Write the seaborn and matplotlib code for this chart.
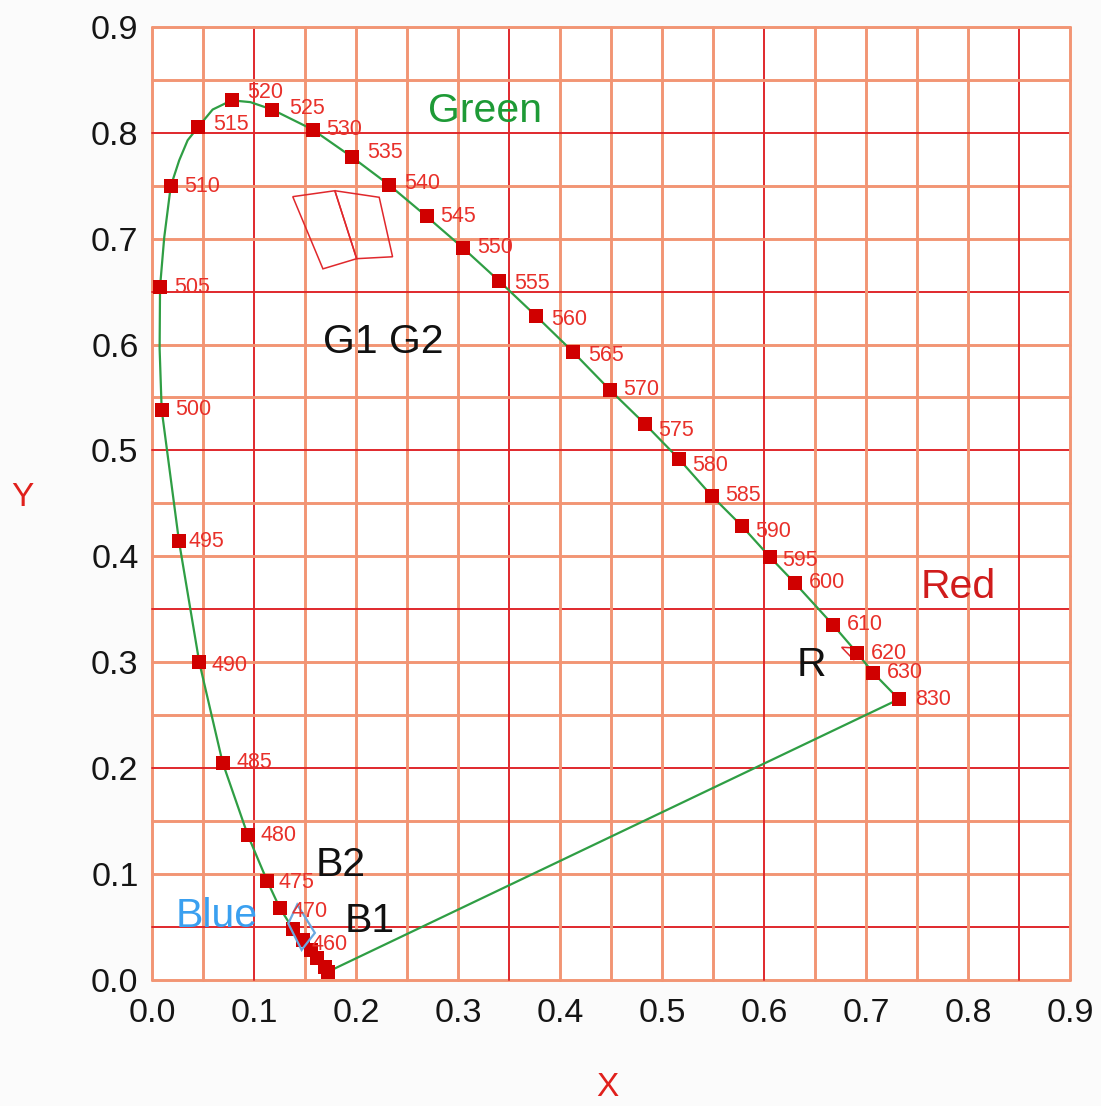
import numpy as np
import pandas as pd
import matplotlib
matplotlib.use("Agg")
import matplotlib.pyplot as plt
import seaborn as sns

# ---------------- data ----------------
wavelengths = [380, 440, 450, 455, 460, 465, 470, 475, 480, 485, 490, 495, 500,
               505, 510, 515, 520, 525, 530, 535, 540, 545, 550, 555, 560, 565,
               570, 575, 580, 585, 590, 595, 600, 610, 620, 630, 830]
x_vals = [0.1723, 0.1691, 0.1616, 0.1551, 0.1478, 0.1381, 0.1250, 0.1125, 0.0935,
          0.0688, 0.0459, 0.0260, 0.0090, 0.0074, 0.0179, 0.0449, 0.0777, 0.1174,
          0.1570, 0.1953, 0.2322, 0.2688, 0.3044, 0.3397, 0.3760, 0.4123, 0.4485,
          0.4828, 0.5162, 0.5485, 0.5779, 0.6054, 0.6299, 0.6675, 0.6914, 0.7067,
          0.7322]
y_vals = [0.0075, 0.0116, 0.0201, 0.0280, 0.0374, 0.0475, 0.0674, 0.0932, 0.1365,
          0.2050, 0.2998, 0.4141, 0.5385, 0.6543, 0.7495, 0.8056, 0.8307, 0.8220,
          0.8031, 0.7774, 0.7507, 0.7211, 0.6914, 0.6603, 0.6272, 0.5932, 0.5573,
          0.5252, 0.4921, 0.4571, 0.4288, 0.3995, 0.3749, 0.3352, 0.3084, 0.2901,
          0.2649]
labelled = [460, 470, 475, 480, 485, 490, 495, 500, 505, 510, 515, 520, 525, 530,
            535, 540, 545, 550, 555, 560, 565, 570, 575, 580, 585, 590, 595, 600,
            610, 620, 630, 830]

# extra points (between markers)
curve_wl = [502.5, 507.5, 512.0, 513.5, 517.5, 522.5]
curve_x = [0.0070, 0.0115, 0.0262, 0.0345, 0.0590, 0.0960]
curve_y = [0.5960, 0.7010, 0.7740, 0.7930, 0.8220, 0.8290]

# outlined regions
g1_x = [0.1376, 0.1789, 0.2003, 0.1672]
g1_y = [0.7397, 0.7453, 0.6811, 0.6715]
g2_x = [0.1789, 0.2224, 0.2355, 0.2003]
g2_y = [0.7453, 0.7391, 0.6829, 0.6811]
b_x = [0.1420, 0.1593, 0.1463, 0.1332]
b_y = [0.0709, 0.0441, 0.0280, 0.0530]
r_x = [0.6760, 0.6950, 0.6880]
r_y = [0.3140, 0.3130, 0.3020]

region_names = ["Green", "Red", "Blue", "G1 G2", "B2", "B1", "R"]
region_x = [0.3258, 0.7900, 0.0628, 0.2267, 0.1845, 0.2135, 0.6467]
region_y = [0.8210, 0.3705, 0.0605, 0.6020, 0.1078, 0.0558, 0.2968]

x_ticks = [0.0, 0.1, 0.2, 0.3, 0.4, 0.5, 0.6, 0.7, 0.8, 0.9]
y_ticks = [0.0, 0.1, 0.2, 0.3, 0.4, 0.5, 0.6, 0.7, 0.8, 0.9]

# ---------------- styling ----------------
sns.set_theme(style="white")
plt.rcParams["font.family"] = ["Liberation Sans", "DejaVu Sans"]

fig = plt.figure(figsize=(11.01, 11.06), dpi=100, facecolor="#fbfbfb")
ax = fig.add_axes([0.1385, 0.1143, 0.8333, 0.8613])
ax.set_facecolor("white")
ax.set_xlim(0, 0.9)
ax.set_ylim(0, 0.9)
for s in ax.spines.values():
    s.set_visible(False)

# grid
orange = "#f29574"
dark = "#e0282c"
grid_pos = np.round(np.arange(0, 0.9001, 0.05), 2)
dark_v = [0.1, 0.35, 0.6, 0.85]
dark_h = [0.05, 0.2, 0.35, 0.5, 0.65, 0.8]
for g in grid_pos:
    if any(abs(g - d) < 1e-6 for d in dark_v):
        ax.axvline(g, color=dark, lw=1.4, zorder=1, clip_on=False)
    else:
        ax.axvline(g, color=orange, lw=2.1, zorder=1, clip_on=False)
    if any(abs(g - d) < 1e-6 for d in dark_h):
        ax.axhline(g, color=dark, lw=1.4, zorder=1, clip_on=False)
    else:
        ax.axhline(g, color=orange, lw=2.1, zorder=1, clip_on=False)

# locus curve (markers + extra curve points, ordered by wavelength), closed
loc = pd.DataFrame({"wl": list(wavelengths) + curve_wl,
                    "x": list(x_vals) + curve_x,
                    "y": list(y_vals) + curve_y}).sort_values("wl")
loc = pd.concat([loc, loc.iloc[[0]]], ignore_index=True)
sns.lineplot(data=loc, x="x", y="y", sort=False, estimator=None, ax=ax,
             color="#2f9e44", lw=1.6, zorder=3)

# region outlines
for px, py in [(g1_x, g1_y), (g2_x, g2_y), (r_x, r_y)]:
    ax.fill(px, py, fill=False, edgecolor="#e0282c", lw=1.1, zorder=3)

# markers
pts = pd.DataFrame({"wl": wavelengths, "x": x_vals, "y": y_vals})
sns.scatterplot(data=pts, x="x", y="y", marker="s", s=115, color="#d00000",
                linewidth=0, ax=ax, zorder=4)

ax.fill(b_x, b_y, fill=False, edgecolor="#6aa8e0", lw=1.6, zorder=5)

# wavelength labels
offsets = {520: (11, 6), 515: (11, 2), 525: (12, 1), 535: (11, 3), 540: (11, 1),
           555: (11, -2), 560: (11, -3), 565: (11, -3), 575: (10, -5),
           580: (10, -5), 590: (10, -4), 595: (9, -3), 495: (7, 0), 490: (9, -2),
           470: (8, -2), 460: (6, -3), 475: (8, -1), 480: (9, 0), 830: (12, 0)}
for wl, xv, yv in zip(wavelengths, x_vals, y_vals):
    if wl in labelled:
        dx, dy = offsets.get(wl, (10, 0))
        ax.annotate(str(wl), (xv, yv), xytext=(dx, dy), textcoords="offset points",
                    ha="left", va="center", fontsize=15.5, color="#e8302a", zorder=6)

# region names
name_colors = ["#1e9a36", "#d01c1c", "#3aa0f0", "#111111", "#111111", "#111111", "#111111"]
for n, xv, yv, c in zip(region_names, region_x, region_y, name_colors):
    ax.text(xv, yv, n, ha="center", va="center", fontsize=29.5, color=c, zorder=6)

# ticks
ax.set_xticks(x_ticks)
ax.set_xticklabels([f"{t:.1f}" for t in x_ticks])
ax.set_yticks(y_ticks)
ax.set_yticklabels([f"{t:.1f}" for t in y_ticks])
ax.tick_params(axis="both", length=0, labelsize=24.5, labelcolor="#151515")
ax.tick_params(axis="x", pad=13)
ax.tick_params(axis="y", pad=10)
ax.grid(False)

ax.set_xlabel("X", fontsize=24, color="#e0201c")
ax.xaxis.set_label_coords(0.4954, -0.097)
ax.set_ylabel("Y", fontsize=24, color="#e0201c", rotation=0, ha="center", va="center")
ax.yaxis.set_label_coords(-0.142, 0.5065)

fig.savefig("out.png", dpi=100, facecolor=fig.get_facecolor())
